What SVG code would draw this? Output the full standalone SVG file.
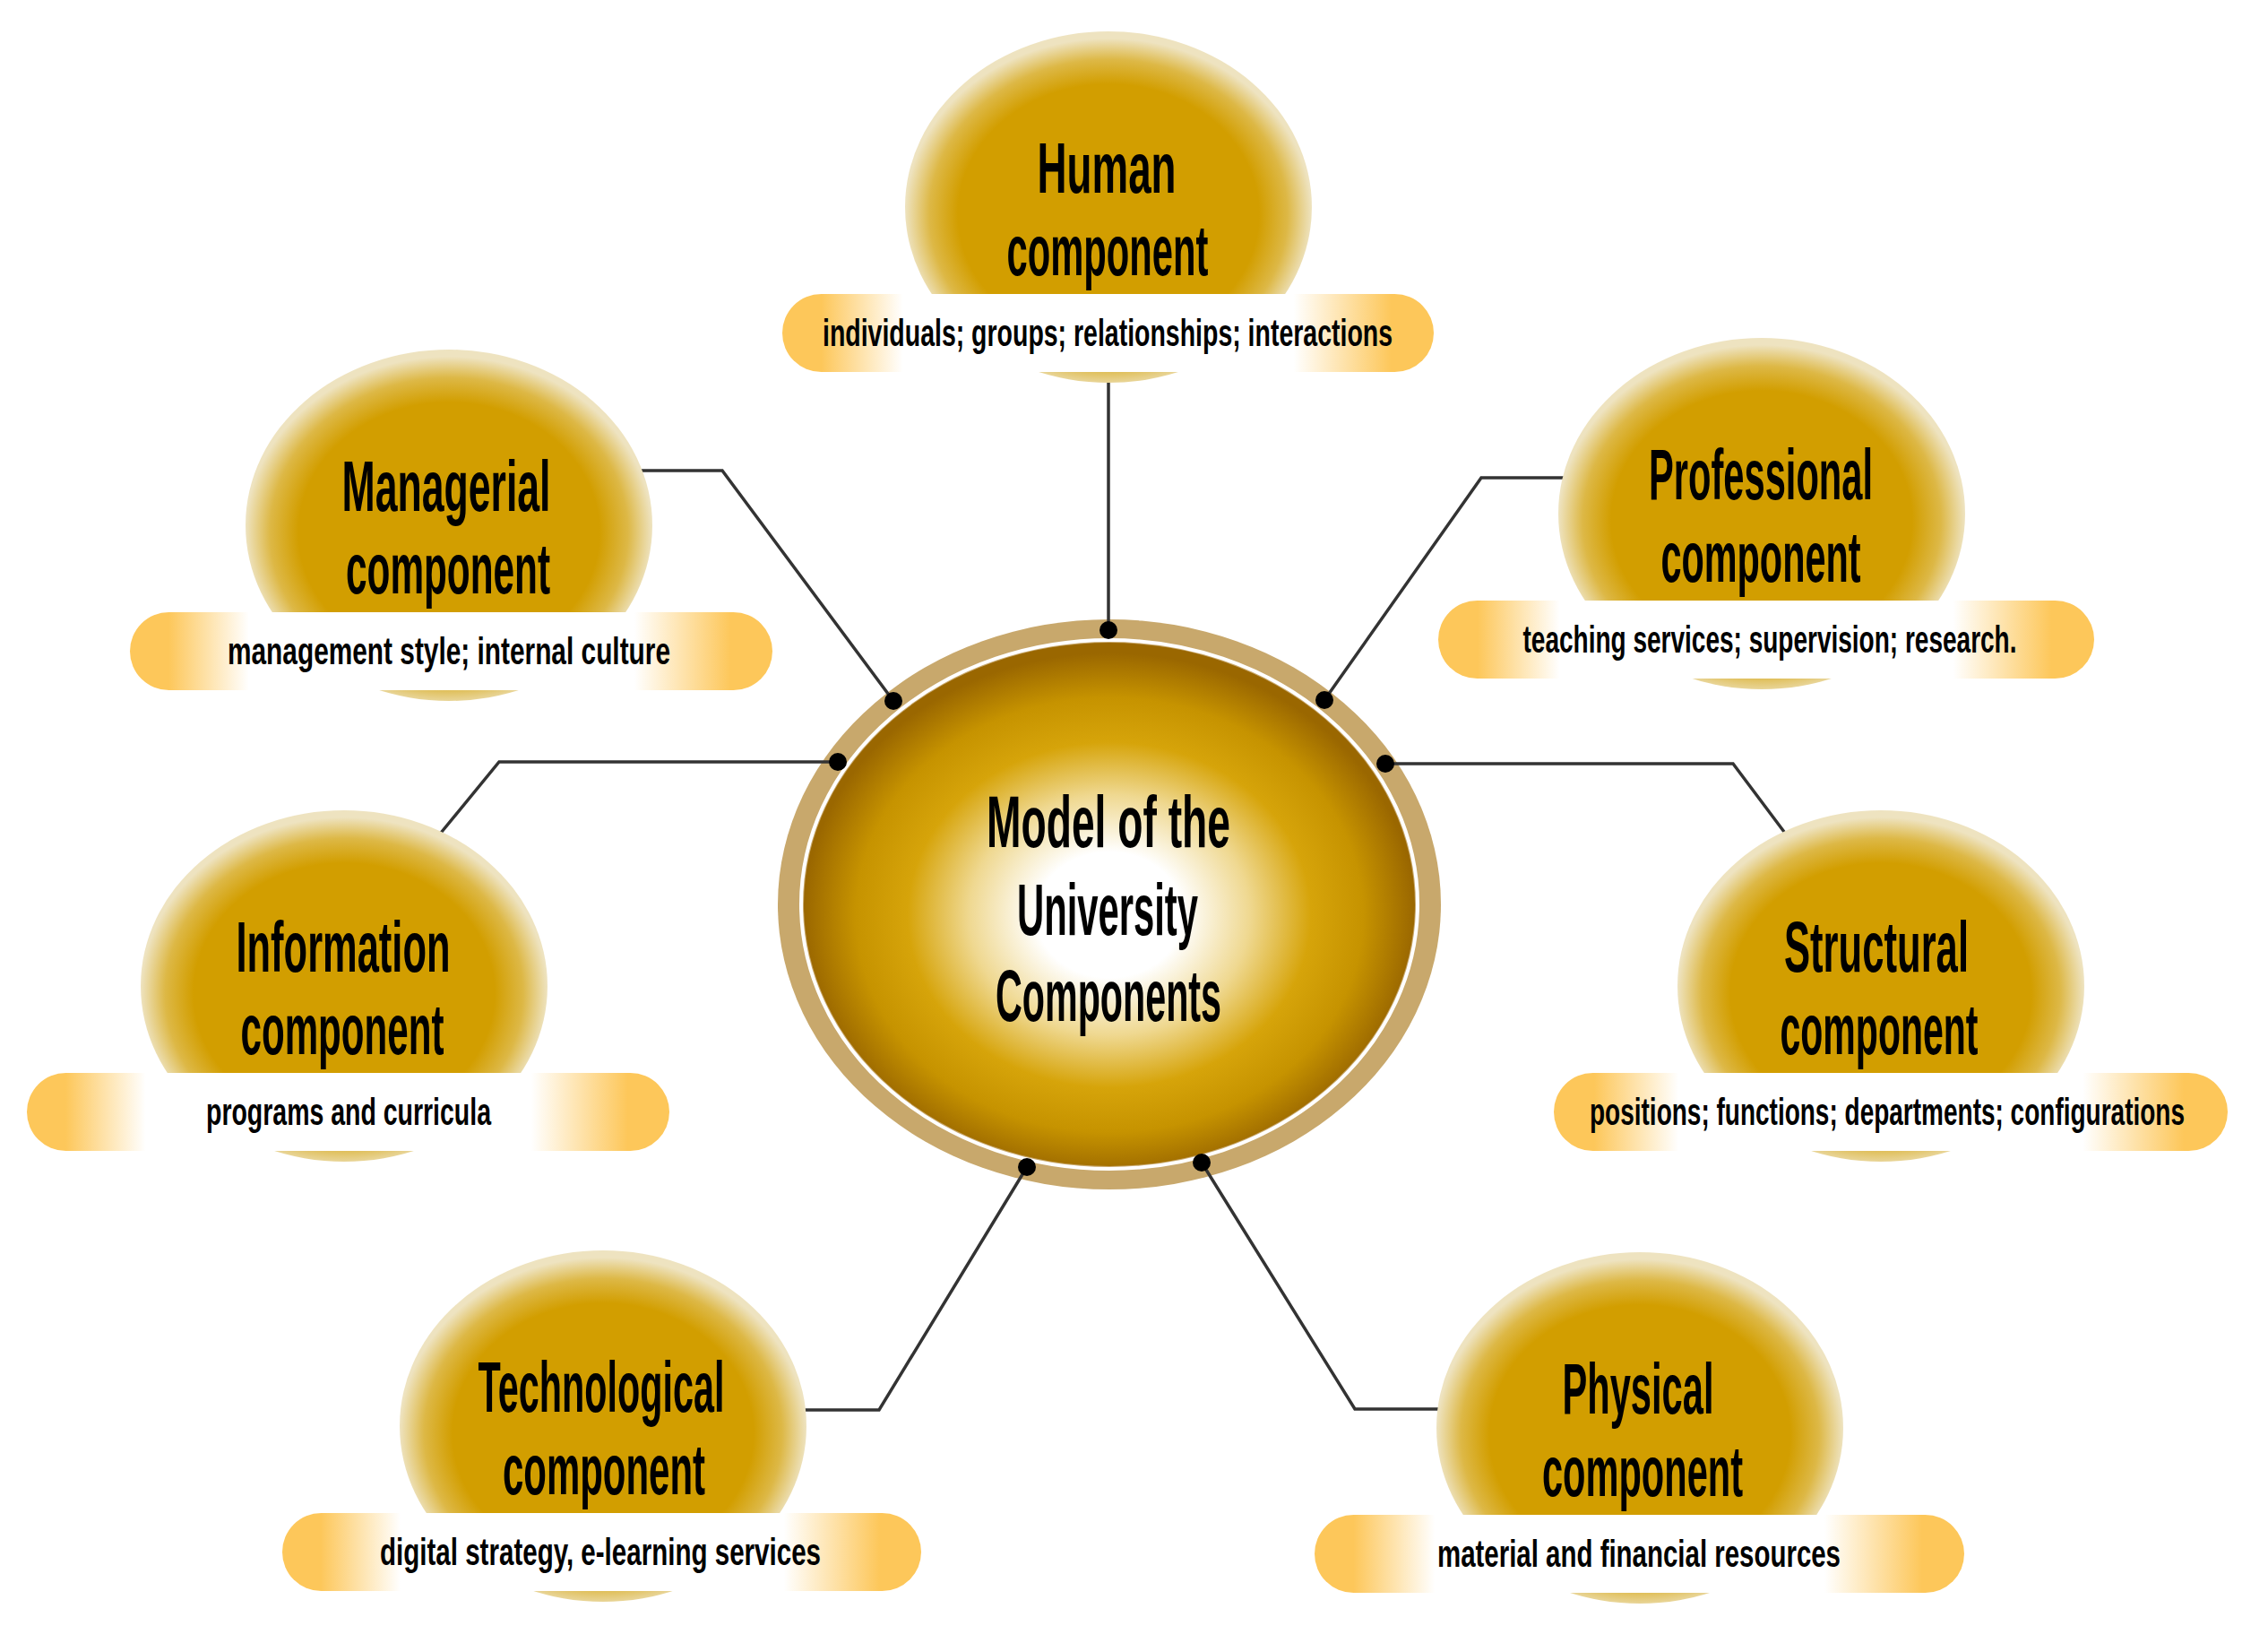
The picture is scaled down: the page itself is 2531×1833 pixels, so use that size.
<svg xmlns="http://www.w3.org/2000/svg" width="2531" height="1833" viewBox="0 0 2531 1833">
<defs>
<radialGradient id="nodeFill" cx="50%" cy="52%" r="50%">
<stop offset="0" stop-color="#D29E00"/>
<stop offset="0.74" stop-color="#D29E00"/>
<stop offset="0.88" stop-color="#DDB846"/>
<stop offset="1" stop-color="#EEE3C0"/>
</radialGradient>
<linearGradient id="barFill" x1="0" y1="0" x2="1" y2="0">
<stop offset="0" stop-color="#FDC75A"/>
<stop offset="0.06" stop-color="#FDC75A"/>
<stop offset="0.185" stop-color="#FFFFFF"/>
<stop offset="0.785" stop-color="#FFFFFF"/>
<stop offset="0.935" stop-color="#FDC75A"/>
<stop offset="1" stop-color="#FDC75A"/>
</linearGradient>
<radialGradient id="coreFill" cx="50%" cy="52%" r="50%">
<stop offset="0" stop-color="#FFFFFF"/>
<stop offset="0.24" stop-color="#FFFFFF"/>
<stop offset="0.46" stop-color="#EFD890"/>
<stop offset="0.66" stop-color="#D6A40A"/>
<stop offset="0.83" stop-color="#C69300"/>
<stop offset="1" stop-color="#9A6700"/>
</radialGradient>
</defs>
<style>
.ell{fill:url(#nodeFill)}
.bar{fill:url(#barFill)}
.t{font-family:"Liberation Sans Narrow","Liberation Sans","DejaVu Sans Condensed",sans-serif;font-weight:bold;fill:#000;text-anchor:middle}
.title{font-size:80px}
.sub{font-size:42px}
.core{font-size:82px}
.line{fill:none;stroke:#333333;stroke-width:3.5;stroke-linejoin:miter}
.dot{fill:#000}
</style>
<rect width="2531" height="1833" fill="#FFFFFF"/>

<g id="center">
<ellipse cx="1238" cy="1009" rx="370" ry="318" fill="#C8A86C"/>
<ellipse cx="1238" cy="1009" rx="344" ry="295" fill="none" stroke="#FFFFFF" stroke-width="4"/>
<ellipse cx="1238" cy="1009" rx="341" ry="292" fill="url(#coreFill)"/>
<text class="t core" x="1237" y="945" textLength="272" lengthAdjust="spacingAndGlyphs">Model of the</text>
<text class="t core" x="1236" y="1043" textLength="202" lengthAdjust="spacingAndGlyphs">University</text>
<text class="t core" x="1237" y="1139" textLength="252" lengthAdjust="spacingAndGlyphs">Components</text>
</g>

<g id="connectors">
<polyline class="line" points="1237,425 1237,703"/>
<polyline class="line" points="700,525 806,525 997,782"/>
<polyline class="line" points="1755,533 1653,533 1478,781"/>
<polyline class="line" points="935,850 557,850 488,934"/>
<polyline class="line" points="1546,852 1934,852 1994,932"/>
<polyline class="line" points="890,1573 981,1573 1146,1302"/>
<polyline class="line" points="1341,1297 1512,1572 1612,1572"/>
<circle class="dot" cx="1237" cy="703" r="10"/>
<circle class="dot" cx="997" cy="782" r="10"/>
<circle class="dot" cx="935" cy="850" r="10"/>
<circle class="dot" cx="1478" cy="781" r="10"/>
<circle class="dot" cx="1546" cy="852" r="10"/>
<circle class="dot" cx="1146" cy="1302" r="10"/>
<circle class="dot" cx="1341" cy="1297" r="10"/>
</g>

<g id="human">
<ellipse class="ell" cx="1237" cy="231" rx="227" ry="196"/>
<rect class="bar" x="873" y="328" width="727" height="87" rx="43.5"/>
<text class="t title" x="1235" y="215" textLength="155" lengthAdjust="spacingAndGlyphs">Human</text>
<text class="t title" x="1236" y="307" textLength="225" lengthAdjust="spacingAndGlyphs">component</text>
<text class="t sub" x="1236" y="386" textLength="636" lengthAdjust="spacingAndGlyphs">individuals;  groups; relationships; interactions</text>
</g>

<g id="managerial">
<ellipse class="ell" cx="501" cy="586" rx="227" ry="196"/>
<rect class="bar" x="145" y="683" width="717" height="87" rx="43.5"/>
<text class="t title" x="498" y="570" textLength="233" lengthAdjust="spacingAndGlyphs">Managerial</text>
<text class="t title" x="500" y="662" textLength="228" lengthAdjust="spacingAndGlyphs">component</text>
<text class="t sub" x="501" y="741" textLength="494" lengthAdjust="spacingAndGlyphs">management style; internal culture</text>
</g>

<g id="professional">
<ellipse class="ell" cx="1966" cy="573" rx="227" ry="196"/>
<rect class="bar" x="1605" y="670" width="732" height="87" rx="43.5"/>
<text class="t title" x="1965" y="557" textLength="250" lengthAdjust="spacingAndGlyphs">Professional</text>
<text class="t title" x="1965" y="649" textLength="223" lengthAdjust="spacingAndGlyphs">component</text>
<text class="t sub" x="1975" y="728" textLength="551" lengthAdjust="spacingAndGlyphs">teaching services; supervision; research.</text>
</g>

<g id="information">
<ellipse class="ell" cx="384" cy="1100" rx="227" ry="196"/>
<rect class="bar" x="30" y="1197" width="717" height="87" rx="43.5"/>
<text class="t title" x="383" y="1084" textLength="239" lengthAdjust="spacingAndGlyphs">Information</text>
<text class="t title" x="382" y="1176" textLength="227" lengthAdjust="spacingAndGlyphs">component</text>
<text class="t sub" x="389" y="1255" textLength="318" lengthAdjust="spacingAndGlyphs">programs and curricula</text>
</g>

<g id="structural">
<ellipse class="ell" cx="2099" cy="1100" rx="227" ry="196"/>
<rect class="bar" x="1734" y="1197" width="752" height="87" rx="43.5"/>
<text class="t title" x="2094" y="1084" textLength="206" lengthAdjust="spacingAndGlyphs">Structural</text>
<text class="t title" x="2097" y="1176" textLength="221" lengthAdjust="spacingAndGlyphs">component</text>
<text class="t sub" x="2106" y="1255" textLength="664" lengthAdjust="spacingAndGlyphs">positions; functions; departments; configurations</text>
</g>

<g id="technological">
<ellipse class="ell" cx="673" cy="1591" rx="227" ry="196"/>
<rect class="bar" x="315" y="1688" width="713" height="87" rx="43.5"/>
<text class="t title" x="671" y="1575" textLength="275" lengthAdjust="spacingAndGlyphs">Technological</text>
<text class="t title" x="674" y="1667" textLength="226" lengthAdjust="spacingAndGlyphs">component</text>
<text class="t sub" x="670" y="1746" textLength="492" lengthAdjust="spacingAndGlyphs">digital strategy, e-learning services</text>
</g>

<g id="physical">
<ellipse class="ell" cx="1830" cy="1593" rx="227" ry="196"/>
<rect class="bar" x="1467" y="1690" width="725" height="87" rx="43.5"/>
<text class="t title" x="1828" y="1577" textLength="169" lengthAdjust="spacingAndGlyphs">Physical</text>
<text class="t title" x="1833" y="1669" textLength="224" lengthAdjust="spacingAndGlyphs">component</text>
<text class="t sub" x="1829" y="1748" textLength="450" lengthAdjust="spacingAndGlyphs">material and financial resources</text>
</g>
</svg>
